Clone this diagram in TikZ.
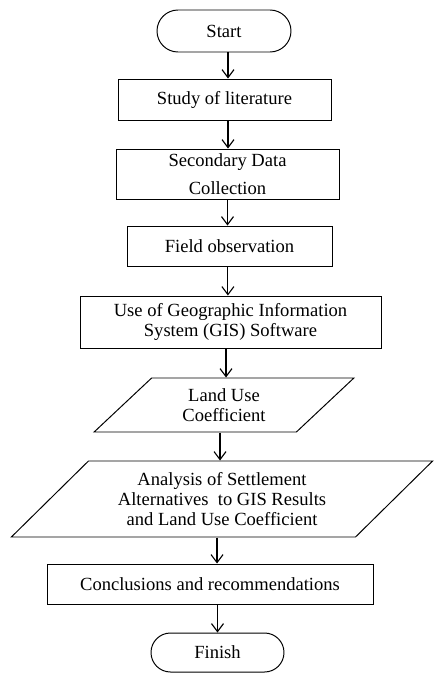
\documentclass[tikz,border=0pt]{standalone}
\usepackage{fontspec}
\setmainfont{Liberation Serif}
\usepackage{tikz}
\usetikzlibrary{positioning,arrows.meta,shapes.geometric,shapes.misc}
\tikzset{
    terminal/.style={rounded rectangle, draw, line width=0.7pt, inner sep=0pt, minimum width=3.35cm, minimum height=1.05cm},
    process/.style={rectangle, draw, line width=0.7pt, inner sep=0pt, align=center, minimum height=1cm},
    data/.style={trapezium, draw, line width=0.7pt, inner sep=0pt, align=center, trapezium stretches=true},
    flow/.style={-{Straight Barb[length=0.2cm, width=0.3cm]}, line width=0.8pt},
    every node/.style={font=\fontsize{13.2}{14.2}\selectfont}
}

\begin{document}
\begin{tikzpicture}
    \useasboundingbox (0,0) rectangle (10.875,-16.825);

    % Terminal nodes
    \node[terminal] (start) at (5.6,-0.775) {Start};
    \node[terminal, minimum width=3.325cm, minimum height=0.975cm] (finish) at (5.4375,-16.3125) {Finish};

    % Process steps
    \node[process, minimum width=5.325cm, minimum height=1.025cm] (study) at (5.6125,-2.4875) {Study of literature};
    \node[process, minimum width=5.575cm, minimum height=1.25cm,
          font=\fontsize{13.2}{19.9}\selectfont] (secondary) at (5.6875,-4.35) {Secondary Data\\Collection};
    \node[process, minimum width=5.125cm] (field) at (5.7375,-6.15) {Field observation};
    \node[process, minimum width=7.525cm, minimum height=1.3cm] (gis) at (5.7625,-8.05) {Use of Geographic Information\\System (GIS) Software};

    % Data steps
    \node[data, trapezium left angle=45, trapezium right angle=135,
          minimum width=6.5cm, minimum height=1.35cm] (landuse) at (5.6,-10.125) {Land Use\\Coefficient};
    \node[data, trapezium left angle=41.5, trapezium right angle=138.5,
          minimum width=10.55cm, minimum height=1.9cm] (analysis) at (5.55,-12.475) {Analysis of Settlement\\Alternatives~ to GIS Results\\and Land Use Coefficient};

    \node[process, minimum width=8.15cm] (conclusions) at (5.25,-14.6) {Conclusions and recommendations};

    % Flow arrows
    \draw[flow] ([xshift=0.1cm]start.south) -- ([xshift=0.1cm]start.south |- study.north);
    \draw[flow] ([xshift=0.0875cm]study.south) -- ([xshift=0.0875cm]study.south |- secondary.north);
    \draw[flow] (secondary.south) -- (secondary.south |- field.north);
    \draw[flow] ([xshift=-0.04cm]field.south) -- ([xshift=-0.04cm]field.south |- gis.north);
    \draw[flow] ([xshift=-0.1125cm]gis.south) -- ([xshift=-0.1125cm]gis.south |- landuse.north);
    \draw[flow] ([xshift=-0.1cm]landuse.south) -- ([xshift=-0.1cm]landuse.south |- analysis.north);
    \draw[flow] ([xshift=-0.125cm]analysis.south) -- ([xshift=-0.125cm]analysis.south |- conclusions.north);
    \draw[flow] (finish.north |- conclusions.south) -- (finish.north);
\end{tikzpicture}
\end{document}
